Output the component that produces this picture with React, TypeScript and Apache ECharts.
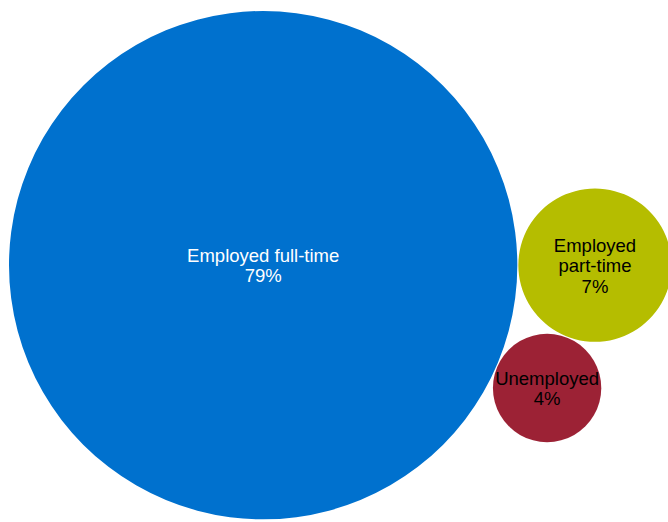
import React, { useEffect, useRef } from "react";
import * as echarts from "echarts";

// Data (shares of the population, %)
const categories = ["Employed full-time", "Employed part-time", "Unemployed"];
const labelLines = [["Employed full-time"], ["Employed", "part-time"], ["Unemployed"]];
const values = [79.2, 7.2, 3.6];
const colors = ["#0071CE", "#B5BD00", "#9C2235"];
const textColors = ["#FFFFFF", "#000000", "#000000"];

// layout / style constants
const SCALE = 28.56; // px radius per sqrt(value)
const PAD = 1; // gap between touching bubbles
const LEFT = 9;
const TOP = 11;

function layout() {
  const r = values.map((v) => SCALE * Math.sqrt(v));
  const A = { x: LEFT + r[0], y: TOP + r[0] };
  const dAB = r[0] + r[1] + PAD;
  const dAC = r[0] + r[2] + PAD;
  const dBC = r[1] + r[2] + PAD;
  const B = { x: A.x + dAB, y: A.y };
  const cosT = (dAB * dAB + dAC * dAC - dBC * dBC) / (2 * dAB * dAC);
  const t = Math.acos(cosT);
  const C = { x: A.x + dAC * Math.cos(t), y: A.y + dAC * Math.sin(t) };
  return [A, B, C].map((p, i) => ({ ...p, r: r[i] }));
}

export default function App() {
  const ref = useRef<HTMLDivElement>(null);
  useEffect(() => {
    if (!ref.current) return;
    const chart = echarts.init(ref.current, undefined, { renderer: "svg" });
    const pos = layout();
    chart.setOption({
      animation: false,
      backgroundColor: "#FFFFFF",
      series: [
        {
          type: "custom",
          coordinateSystem: "none",
          data: values.map((v, i) => ({ value: v, name: categories[i] })),
          renderItem: (params: any) => {
            const i = params.dataIndex;
            const p = pos[i];
            const text = labelLines[i].join("\n") + "\n" + Math.round(values[i]) + "%";
            return {
              type: "group",
              children: [
                {
                  type: "circle",
                  shape: { cx: p.x, cy: p.y, r: p.r },
                  style: { fill: colors[i] },
                },
                {
                  type: "text",
                  x: p.x,
                  y: p.y + 0.5,
                  style: {
                    text,
                    fill: textColors[i],
                    fontSize: 18.5,
                    lineHeight: 20.5,
                    fontFamily: "Arial, 'Liberation Sans', sans-serif",
                    align: "center",
                    verticalAlign: "middle",
                  },
                },
              ],
            };
          },
        },
      ],
    });
    return () => chart.dispose();
  }, []);
  return (
    <div
      ref={ref}
      style={{ position: "fixed", left: 0, top: 0, width: 668, height: 522 }}
    />
  );
}
